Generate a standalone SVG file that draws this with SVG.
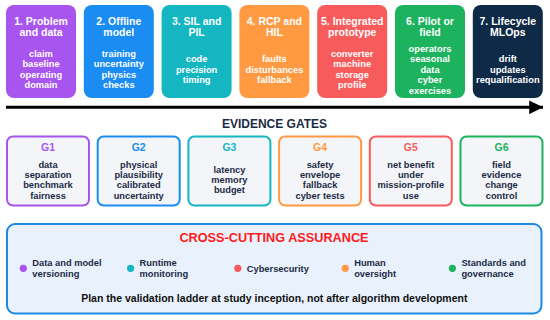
<svg xmlns="http://www.w3.org/2000/svg" width="550" height="320" viewBox="0 0 550 320">
<defs>
<style>
text{font-family:"Liberation Sans",Arial,sans-serif;font-weight:bold;text-anchor:middle}
.st{font-size:10.5px;fill:#fff}
.sb{font-size:9.3px;fill:#fff}
.gt{font-size:10.5px}
.gb{font-size:9.3px;fill:#1c2b45}
.gate{fill:#f3f5f9;stroke-width:2}
.bl{font-size:9.3px;fill:#1c2b45;text-anchor:start}
</style>
<marker id="ah" viewBox="0 0 10 10" refX="10" refY="5" markerWidth="7" markerHeight="4.6" markerUnits="strokeWidth" orient="auto">
<path d="M0,0 L10,5 L0,10 Z" fill="#000"/>
</marker>
</defs>
<rect width="550" height="320" fill="#fff"/>

<g id="connectors">
<line x1="6" y1="107.3" x2="543" y2="107.3" stroke="#000" stroke-width="3" marker-end="url(#ah)"/>
</g>

<g id="stage1">
<rect x="6" y="5" width="70" height="93" rx="8" fill="#a855f0"/>
<text class="st" x="41" y="24.5">1. Problem</text>
<text class="st" x="41" y="36">and data</text>
<text class="sb" x="41" y="56.5">claim</text>
<text class="sb" x="41" y="67">baseline</text>
<text class="sb" x="41" y="77.5">operating</text>
<text class="sb" x="41" y="88">domain</text>
</g>
<g id="stage2">
<rect x="83.8" y="5" width="70" height="93" rx="8" fill="#1a8cf2"/>
<text class="st" x="118.8" y="24.5">2. Offline</text>
<text class="st" x="118.8" y="36">model</text>
<text class="sb" x="118.8" y="56.5">training</text>
<text class="sb" x="118.8" y="67">uncertainty</text>
<text class="sb" x="118.8" y="77.5">physics</text>
<text class="sb" x="118.8" y="88">checks</text>
</g>
<g id="stage3">
<rect x="161.6" y="5" width="70" height="93" rx="8" fill="#14b6c2"/>
<text class="st" x="196.6" y="24.5">3. SIL and</text>
<text class="st" x="196.6" y="36">PIL</text>
<text class="sb" x="196.6" y="62">code</text>
<text class="sb" x="196.6" y="72.5">precision</text>
<text class="sb" x="196.6" y="83">timing</text>
</g>
<g id="stage4">
<rect x="239.4" y="5" width="70" height="93" rx="8" fill="#ff9a42"/>
<text class="st" x="274.4" y="24.5">4. RCP and</text>
<text class="st" x="274.4" y="36">HIL</text>
<text class="sb" x="274.4" y="62">faults</text>
<text class="sb" x="274.4" y="72.5">disturbances</text>
<text class="sb" x="274.4" y="83">fallback</text>
</g>
<g id="stage5">
<rect x="317.2" y="5" width="70" height="93" rx="8" fill="#f75b5b"/>
<text class="st" x="352.2" y="24.5">5. Integrated</text>
<text class="st" x="352.2" y="36">prototype</text>
<text class="sb" x="352.2" y="56.5">converter</text>
<text class="sb" x="352.2" y="67">machine</text>
<text class="sb" x="352.2" y="77.5">storage</text>
<text class="sb" x="352.2" y="88">profile</text>
</g>
<g id="stage6">
<rect x="395" y="5" width="70" height="93" rx="8" fill="#1cb25e"/>
<text class="st" x="430" y="24.5">6. Pilot or</text>
<text class="st" x="430" y="36">field</text>
<text class="sb" x="430" y="51.5">operators</text>
<text class="sb" x="430" y="62">seasonal</text>
<text class="sb" x="430" y="72.5">data</text>
<text class="sb" x="430" y="83">cyber</text>
<text class="sb" x="430" y="93.5">exercises</text>
</g>
<g id="stage7">
<rect x="472.8" y="5" width="70" height="93" rx="8" fill="#0f2a47"/>
<text class="st" x="507.8" y="24.5">7. Lifecycle</text>
<text class="st" x="507.8" y="36">MLOps</text>
<text class="sb" x="507.8" y="62">drift</text>
<text class="sb" x="507.8" y="72.5">updates</text>
<text class="sb" x="507.8" y="83">requalification</text>
</g>

<text x="274.5" y="127.5" style="font-size:12px;fill:#1c2b45">EVIDENCE GATES</text>

<g id="G1">
<rect class="gate" x="7" y="136.5" width="82" height="69" rx="6" stroke="#a855f0"/>
<text class="gt" x="48" y="151" fill="#a855f0">G1</text>
<text class="gb" x="48" y="167.8">data</text>
<text class="gb" x="48" y="178.1">separation</text>
<text class="gb" x="48" y="188.4">benchmark</text>
<text class="gb" x="48" y="198.7">fairness</text>
</g>
<g id="G2">
<rect class="gate" x="97.7" y="136.5" width="82" height="69" rx="6" stroke="#1a8cf2"/>
<text class="gt" x="138.7" y="151" fill="#1a8cf2">G2</text>
<text class="gb" x="138.7" y="167.8">physical</text>
<text class="gb" x="138.7" y="178.1">plausibility</text>
<text class="gb" x="138.7" y="188.4">calibrated</text>
<text class="gb" x="138.7" y="198.7">uncertainty</text>
</g>
<g id="G3">
<rect class="gate" x="188.4" y="136.5" width="82" height="69" rx="6" stroke="#14b6c2"/>
<text class="gt" x="229.4" y="151" fill="#14b6c2">G3</text>
<text class="gb" x="229.4" y="172.8">latency</text>
<text class="gb" x="229.4" y="183.1">memory</text>
<text class="gb" x="229.4" y="193.4">budget</text>
</g>
<g id="G4">
<rect class="gate" x="279.1" y="136.5" width="82" height="69" rx="6" stroke="#ff9a42"/>
<text class="gt" x="320.1" y="151" fill="#ff9a42">G4</text>
<text class="gb" x="320.1" y="167.8">safety</text>
<text class="gb" x="320.1" y="178.1">envelope</text>
<text class="gb" x="320.1" y="188.4">fallback</text>
<text class="gb" x="320.1" y="198.7">cyber tests</text>
</g>
<g id="G5">
<rect class="gate" x="369.8" y="136.5" width="82" height="69" rx="6" stroke="#f75b5b"/>
<text class="gt" x="410.8" y="151" fill="#f75b5b">G5</text>
<text class="gb" x="410.8" y="167.8">net benefit</text>
<text class="gb" x="410.8" y="178.1">under</text>
<text class="gb" x="410.8" y="188.4">mission-profile</text>
<text class="gb" x="410.8" y="198.7">use</text>
</g>
<g id="G6">
<rect class="gate" x="460.5" y="136.5" width="82" height="69" rx="6" stroke="#1cb25e"/>
<text class="gt" x="501.5" y="151" fill="#1cb25e">G6</text>
<text class="gb" x="501.5" y="167.8">field</text>
<text class="gb" x="501.5" y="178.1">evidence</text>
<text class="gb" x="501.5" y="188.4">change</text>
<text class="gb" x="501.5" y="198.7">control</text>
</g>

<g id="assurance">
<rect x="7" y="224" width="534.5" height="89.5" rx="8" fill="#e8f1fc" stroke="#1e88e5" stroke-width="2"/>
<text x="274" y="242" style="font-size:12.7px;fill:#ff1a1a">CROSS-CUTTING ASSURANCE</text>
<circle cx="23.3" cy="268.3" r="3.6" fill="#a855f0"/>
<text class="bl" x="32.3" y="266">Data and model</text>
<text class="bl" x="32.3" y="276.6">versioning</text>
<circle cx="130.6" cy="268.3" r="3.6" fill="#14b6c2"/>
<text class="bl" x="139.6" y="266">Runtime</text>
<text class="bl" x="139.6" y="276.6">monitoring</text>
<circle cx="237.8" cy="268.3" r="3.6" fill="#f75b5b"/>
<text class="bl" x="246.8" y="271.5">Cybersecurity</text>
<circle cx="345.2" cy="268.3" r="3.6" fill="#ff9a42"/>
<text class="bl" x="354.2" y="266">Human</text>
<text class="bl" x="354.2" y="276.6">oversight</text>
<circle cx="452.4" cy="268.3" r="3.6" fill="#1cb25e"/>
<text class="bl" x="461.4" y="266">Standards and</text>
<text class="bl" x="461.4" y="276.6">governance</text>
<text x="274.3" y="302" style="font-size:10.5px;fill:#111">Plan the validation ladder at study inception, not after algorithm development</text>
</g>
</svg>
